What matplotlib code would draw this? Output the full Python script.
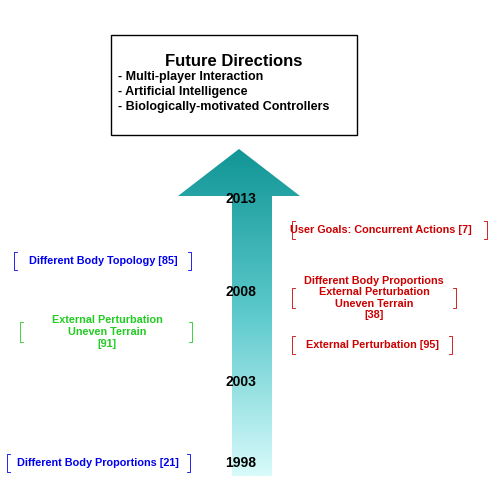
import matplotlib.pyplot as plt
import numpy as np
from matplotlib.patches import Polygon, Rectangle
from matplotlib.colors import LinearSegmentedColormap

plt.rcParams["font.family"] = ["Liberation Sans", "DejaVu Sans"]

years = ["2013", "2008", "2003", "1998"]
year_y = [199, 292, 382, 463]

future_title = "Future Directions"
future_items = ["- Multi-player Interaction", "- Artificial Intelligence",
                "- Biologically-motivated Controllers"]

# (text, colour, centre x, centre y, left bracket x, right bracket x, bracket half height)
left_labels = [
    ("Different Body Topology [85]", "#0000ee", 103, 261, 14, 191, 9),
    ("External Perturbation\nUneven Terrain\n[91]", "#22cc22", 107, 332, 20, 192, 10),
    ("Different Body Proportions [21]", "#0000ee", 98, 463, 7, 190, 9),
]
right_labels = [
    ("User Goals: Concurrent Actions [7]", "#cc0000", 381, 230, 292, 487, 9),
    ("Different Body Proportions\nExternal Perturbation\nUneven Terrain\n[38]", "#cc0000", 374, 298, 292, 456, 10),
    ("External Perturbation [95]", "#cc0000", 372, 345, 292, 452, 9),
]

fig = plt.figure(figsize=(5, 5), dpi=100)
ax = fig.add_axes([0, 0, 1, 1])
ax.set_xlim(0, 500)
ax.set_ylim(500, 0)
ax.axis("off")

# gradient arrow
arrow = Polygon([(232, 476), (232, 196), (178, 196), (239, 149), (300, 196),
                 (272, 196), (272, 476)], closed=True, facecolor="none", edgecolor="none")
ax.add_patch(arrow)
cmap = LinearSegmentedColormap.from_list("teal", ["#119595", "#5cc9cc", "#d8fbfb"])
grad = np.linspace(0, 1, 256).reshape(-1, 1)
im = ax.imshow(grad, cmap=cmap, extent=[178, 300, 476, 149], aspect="auto", zorder=1)
im.set_clip_path(arrow)

for y, t in zip(year_y, years):
    ax.text(241, y, t, ha="center", va="center", fontsize=10, fontweight="bold", zorder=3)

# future directions box
ax.add_patch(Rectangle((111, 35), 246, 100, facecolor="white", edgecolor="black", lw=1))
ax.text(234, 61, future_title, ha="center", va="center", fontsize=12, fontweight="bold")
for i, item in enumerate(future_items):
    ax.text(118, 77 + i * 15, item, ha="left", va="center", fontsize=9, fontweight="bold")


def bracket(x, yc, h, side, color):
    d = 3 if side == "left" else -3
    ax.plot([x + d, x, x, x + d], [yc - h, yc - h, yc + h, yc + h], color=color, lw=0.6)


for text, color, cx, cy, lx, rx, h in left_labels + right_labels:
    ax.text(cx, cy, text, ha="center", va="center", fontsize=7.8, fontweight="bold",
            color=color, linespacing=1.2)
    bracket(lx, cy, h, "left", color)
    bracket(rx, cy, h, "right", color)

fig.savefig("out.png", dpi=100)
